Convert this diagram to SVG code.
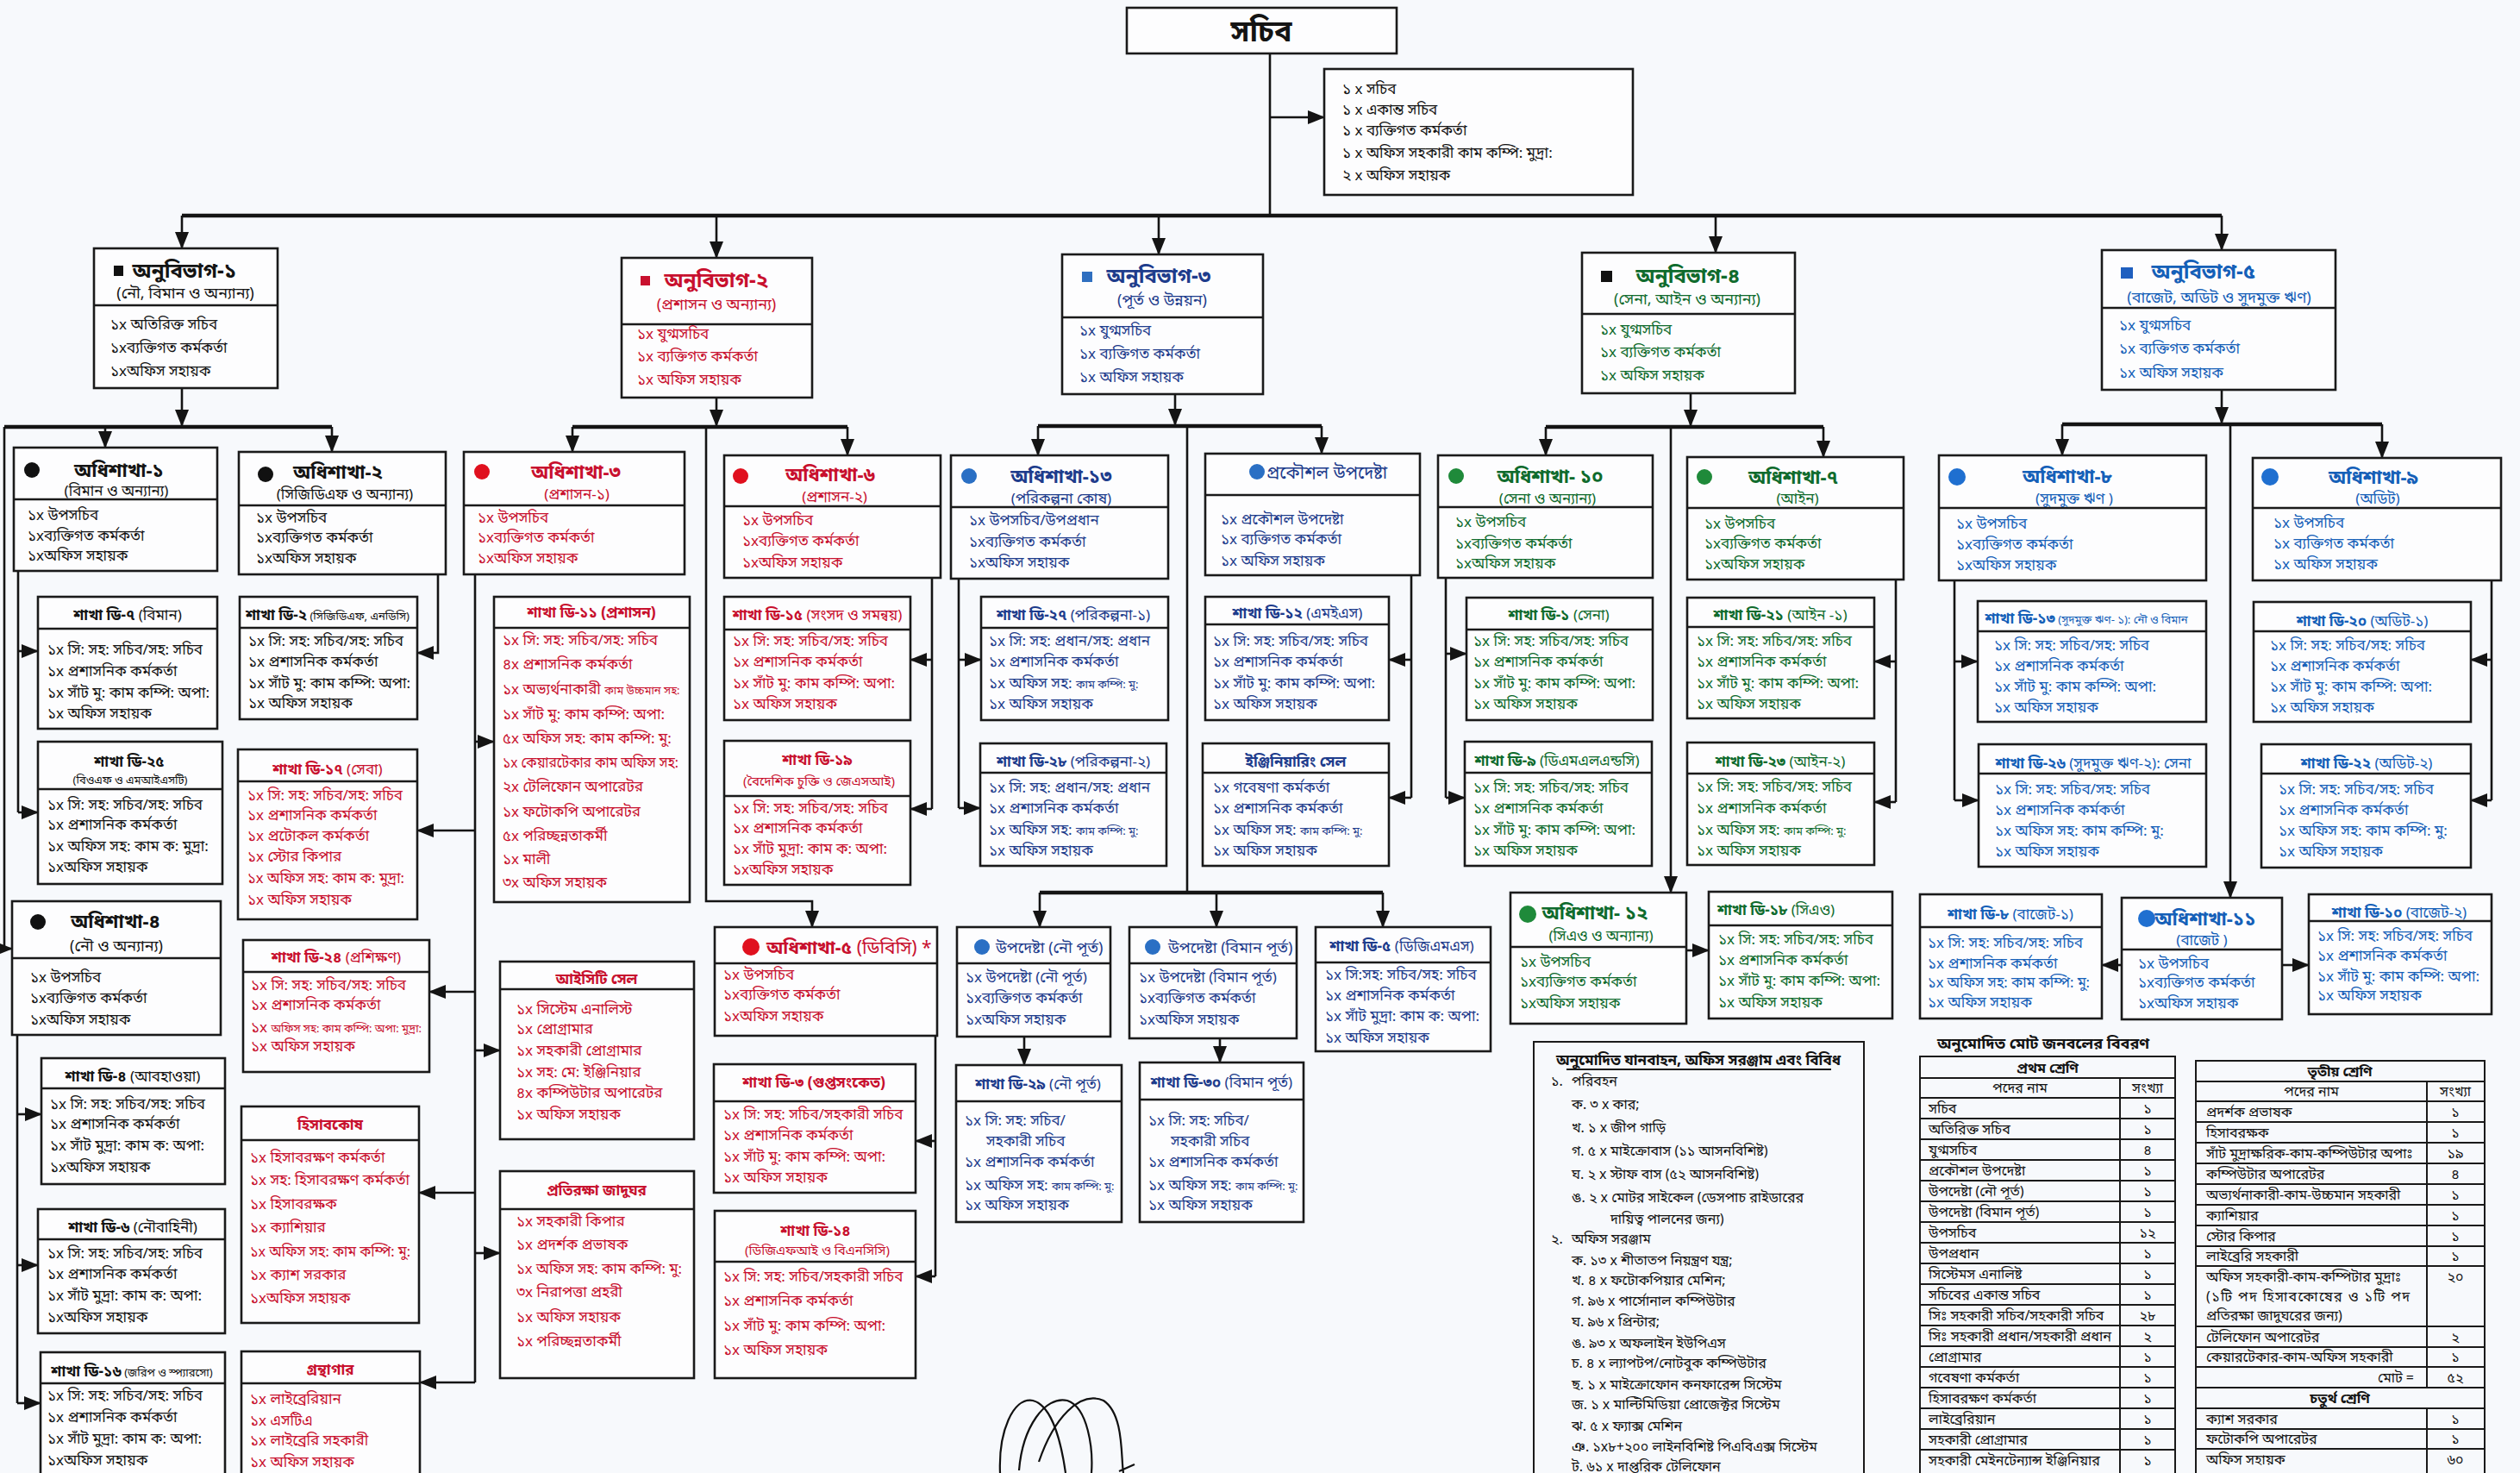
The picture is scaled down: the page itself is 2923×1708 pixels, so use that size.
<svg xmlns="http://www.w3.org/2000/svg" width="2923" height="1708" viewBox="0 0 2923 1708">
<style>
text{font-family:"Noto Sans Bengali","Noto Serif Bengali","Lohit Bengali","FreeSans","Noto Sans",sans-serif}
.bx{fill:#fdfdfe;stroke:#1a1a1a;stroke-width:2.6}
.sp{stroke:#1a1a1a;stroke-width:2.6}
.h1{font-size:24px;font-weight:bold}
.h2{font-size:22px;font-weight:bold}
.s1{font-size:18px}
.l{font-size:17px}
.xs{font-size:13px}
.m{text-anchor:middle}
.e{text-anchor:end}
.b{font-weight:bold}
.k{fill:#141414}.r{fill:#c8102e}.u{fill:#1e3c8c}.g{fill:#0f6b2d}.c{fill:#1560b8}
.cn path{fill:none;stroke:#141414;stroke-width:2.6}
.cn path.bus{stroke-width:4.5}
.tb line,.tb rect{stroke:#1a1a1a;stroke-width:2;fill:none}
.tb text{font-size:16px;fill:#141414}
</style>
<defs>
<marker id="a" markerUnits="userSpaceOnUse" markerWidth="20" markerHeight="16" viewBox="0 0 20 16" refX="19" refY="8" orient="auto"><path d="M0,0 L20,8 L0,16 z" fill="#141414"/></marker>
</defs>
<rect x="0" y="0" width="2923" height="1708" fill="#f7f9fc"/>

<g id="connectors" class="cn">
<path d="M1473,62 V250"/>
<path d="M1473,136 H1536" marker-end="url(#a)"/>
<path class="bus" d="M211,250 H2577"/>
<path d="M211,250 V288" marker-end="url(#a)"/>
<path d="M831,250 V299" marker-end="url(#a)"/>
<path d="M1344,250 V295" marker-end="url(#a)"/>
<path d="M1990,250 V293" marker-end="url(#a)"/>
<path d="M2577,250 V290" marker-end="url(#a)"/>
<path d="M211,450 V494" marker-end="url(#a)"/>
<path class="bus" d="M5,495 H385"/>
<path d="M122,495 V519" marker-end="url(#a)"/>
<path d="M385,495 V524" marker-end="url(#a)"/>
<path d="M5,495 V1100 H14" marker-end="url(#a)"/>
<path d="M21,662 V942"/>
<path d="M21,755 H44" marker-end="url(#a)"/>
<path d="M21,942 H44" marker-end="url(#a)"/>
<path d="M508,666 V757 H484" marker-end="url(#a)"/>
<path d="M20,1200 V1627"/>
<path d="M20,1292 H48" marker-end="url(#a)"/>
<path d="M20,1467 H44" marker-end="url(#a)"/>
<path d="M20,1627 H47" marker-end="url(#a)"/>
<path d="M831,461 V494" marker-end="url(#a)"/>
<path class="bus" d="M664,495 H983"/>
<path d="M664,495 V524" marker-end="url(#a)"/>
<path d="M983,495 V528" marker-end="url(#a)"/>
<path d="M819,495 V1045 H942 V1075" marker-end="url(#a)"/>
<path d="M551,666 V1603"/>
<path d="M551,860 H573" marker-end="url(#a)"/>
<path d="M551,963 H484" marker-end="url(#a)"/>
<path d="M551,1150 H498" marker-end="url(#a)"/>
<path d="M551,1218 H580" marker-end="url(#a)"/>
<path d="M551,1383 H486" marker-end="url(#a)"/>
<path d="M551,1453 H580" marker-end="url(#a)"/>
<path d="M551,1603 H487" marker-end="url(#a)"/>
<path d="M1081,670 V938"/>
<path d="M1081,765 H1056" marker-end="url(#a)"/>
<path d="M1081,938 H1056" marker-end="url(#a)"/>
<path d="M1085,1201 V1480"/>
<path d="M1085,1323 H1062" marker-end="url(#a)"/>
<path d="M1085,1480 H1062" marker-end="url(#a)"/>
<path d="M1363,457 V493" marker-end="url(#a)"/>
<path class="bus" d="M1204,494 H1533"/>
<path d="M1204,494 V528" marker-end="url(#a)"/>
<path d="M1533,494 V526" marker-end="url(#a)"/>
<path d="M1377,494 V1035"/>
<path class="bus" d="M1206,1035 H1604"/>
<path d="M1206,1035 V1075" marker-end="url(#a)"/>
<path d="M1411,1035 V1075" marker-end="url(#a)"/>
<path d="M1604,1035 V1075" marker-end="url(#a)"/>
<path d="M1112,671 V937"/>
<path d="M1112,765 H1138" marker-end="url(#a)"/>
<path d="M1112,937 H1137" marker-end="url(#a)"/>
<path d="M1637,667 V925"/>
<path d="M1637,765 H1611" marker-end="url(#a)"/>
<path d="M1637,925 H1611" marker-end="url(#a)"/>
<path d="M1188,1202 V1235" marker-end="url(#a)"/>
<path d="M1415,1204 V1232" marker-end="url(#a)"/>
<path d="M1961,456 V494" marker-end="url(#a)"/>
<path class="bus" d="M1793,495 H2115"/>
<path d="M1793,495 V528" marker-end="url(#a)"/>
<path d="M2115,495 V530" marker-end="url(#a)"/>
<path d="M1938,495 V1035" marker-end="url(#a)"/>
<path d="M1677,670 V925"/>
<path d="M1677,758 H1701" marker-end="url(#a)"/>
<path d="M1677,925 H1699" marker-end="url(#a)"/>
<path d="M2199,672 V930"/>
<path d="M2199,767 H2174" marker-end="url(#a)"/>
<path d="M2199,930 H2174" marker-end="url(#a)"/>
<path d="M1956,1102 H1982" marker-end="url(#a)"/>
<path d="M2577,452 V491" marker-end="url(#a)"/>
<path class="bus" d="M2392,492 H2763"/>
<path d="M2392,492 V528" marker-end="url(#a)"/>
<path d="M2763,492 V531" marker-end="url(#a)"/>
<path d="M2587,492 V1041" marker-end="url(#a)"/>
<path d="M2267,673 V928"/>
<path d="M2267,767 H2294" marker-end="url(#a)"/>
<path d="M2267,928 H2295" marker-end="url(#a)"/>
<path d="M2890,673 V928"/>
<path d="M2890,765 H2866" marker-end="url(#a)"/>
<path d="M2890,928 H2866" marker-end="url(#a)"/>
<path d="M2461,1119 H2438" marker-end="url(#a)"/>
<path d="M2647,1119 H2678" marker-end="url(#a)"/>
</g>

<g id="sochib"><rect class="bx" x="1307" y="9" width="313" height="53"/><text class="m k" x="1463" y="48" style="font-size:34px;font-weight:bold">সচিব</text></g>
<g id="sochib-staff"><rect class="bx" x="1536" y="80" width="358" height="146"/>
<text class="l k"><tspan x="1557" y="109">১ x সচিব</tspan><tspan x="1557" y="133">১ x একান্ত সচিব</tspan><tspan x="1557" y="157">১ x ব্যক্তিগত কর্মকর্তা</tspan><tspan x="1557" y="183">১ x অফিস সহকারী কাম কম্পি: মুদ্রা:</tspan><tspan x="1557" y="209">২ x অফিস সহায়ক</tspan></text></g>

<g id="anubibhag-1"><rect class="bx" x="109" y="288" width="213" height="162"/><line class="sp" x1="109" y1="354" x2="322" y2="354"/><rect x="132" y="308" width="11" height="12" fill="#111"/>
<text class="h1 m k" x="214" y="322">অনুবিভাগ-১</text><text class="s1 m k" x="215" y="346">(নৌ, বিমান ও অন্যান্য)</text>
<text class="l k"><tspan x="128" y="382">১x অতিরিক্ত সচিব</tspan><tspan x="128" y="409">১xব্যক্তিগত কর্মকর্তা</tspan><tspan x="128" y="436">১xঅফিস সহায়ক</tspan></text></g>

<g id="adhishakha-1"><rect class="bx" x="16" y="519" width="236" height="143"/><line class="sp" x1="16" y1="579" x2="252" y2="579"/><circle cx="37" cy="545" r="9" fill="#111"/>
<text class="h2 m k" x="138" y="553">অধিশাখা-১</text><text class="l m k" x="135" y="575">(বিমান ও অন্যান্য)</text>
<text class="l k"><tspan x="32" y="603">১x উপসচিব</tspan><tspan x="32" y="627">১xব্যক্তিগত কর্মকর্তা</tspan><tspan x="32" y="650">১xঅফিস সহায়ক</tspan></text></g>

<g id="adhishakha-2"><rect class="bx" x="277" y="524" width="240" height="142"/><line class="sp" x1="277" y1="586" x2="517" y2="586"/><circle cx="308" cy="550" r="9" fill="#111"/>
<text class="h2 m k" x="392" y="555">অধিশাখা-২</text><text class="l m k" x="400" y="579">(সিজিডিএফ ও অন্যান্য)</text>
<text class="l k"><tspan x="297" y="606">১x উপসচিব</tspan><tspan x="297" y="629">১xব্যক্তিগত কর্মকর্তা</tspan><tspan x="297" y="653">১xঅফিস সহায়ক</tspan></text></g>

<g id="shakha-d7"><rect class="bx" x="44" y="692" width="208" height="153"/><line class="sp" x1="44" y1="729" x2="252" y2="729"/>
<text class="l m k" x="148" y="719"><tspan class="b">শাখা ডি-৭</tspan> (বিমান)</text>
<text class="l k"><tspan x="55" y="759">১x সি: সহ: সচিব/সহ: সচিব</tspan><tspan x="55" y="784">১x প্রশাসনিক কর্মকর্তা</tspan><tspan x="55" y="809">১x সাঁট মু: কাম কম্পি: অপা:</tspan><tspan x="55" y="833">১x অফিস সহায়ক</tspan></text></g>

<g id="shakha-d25"><rect class="bx" x="44" y="860" width="214" height="165"/><line class="sp" x1="44" y1="915" x2="258" y2="915"/>
<text class="l m k b" x="150" y="889">শাখা ডি-২৫</text><text class="xs m k" x="151" y="909">(বিওএফ ও এমআইএসটি)</text>
<text class="l k"><tspan x="55" y="939">১x সি: সহ: সচিব/সহ: সচিব</tspan><tspan x="55" y="962">১x প্রশাসনিক কর্মকর্তা</tspan><tspan x="55" y="987">১x অফিস সহ: কাম ক: মুদ্রা:</tspan><tspan x="55" y="1011">১xঅফিস সহায়ক</tspan></text></g>

<g id="adhishakha-4"><rect class="bx" x="14" y="1045" width="242" height="155"/><line class="sp" x1="14" y1="1111" x2="256" y2="1111"/><circle cx="44" cy="1069" r="9" fill="#111"/>
<text class="h2 m k" x="134" y="1076">অধিশাখা-৪</text><text class="s1 m k" x="135" y="1103">(নৌ ও অন্যান্য)</text>
<text class="l k"><tspan x="35" y="1139">১x উপসচিব</tspan><tspan x="35" y="1163">১xব্যক্তিগত কর্মকর্তা</tspan><tspan x="35" y="1188">১xঅফিস সহায়ক</tspan></text></g>

<g id="shakha-d4"><rect class="bx" x="48" y="1227" width="213" height="146"/><line class="sp" x1="48" y1="1262" x2="261" y2="1262"/>
<text class="l m k" x="154" y="1254"><tspan class="b">শাখা ডি-৪</tspan> (আবহাওয়া)</text>
<text class="l k"><tspan x="58" y="1286">১x সি: সহ: সচিব/সহ: সচিব</tspan><tspan x="58" y="1309">১x প্রশাসনিক কর্মকর্তা</tspan><tspan x="58" y="1334">১x সাঁট মুদ্রা: কাম ক: অপা:</tspan><tspan x="58" y="1359">১xঅফিস সহায়ক</tspan></text></g>

<g id="shakha-d6"><rect class="bx" x="44" y="1402" width="217" height="144"/><line class="sp" x1="44" y1="1437" x2="261" y2="1437"/>
<text class="l m k" x="154" y="1429"><tspan class="b">শাখা ডি-৬</tspan> (নৌবাহিনী)</text>
<text class="l k"><tspan x="55" y="1459">১x সি: সহ: সচিব/সহ: সচিব</tspan><tspan x="55" y="1483">১x প্রশাসনিক কর্মকর্তা</tspan><tspan x="55" y="1508">১x সাঁট মুদ্রা: কাম ক: অপা:</tspan><tspan x="55" y="1533">১xঅফিস সহায়ক</tspan></text></g>

<g id="shakha-d16"><rect class="bx" x="47" y="1568" width="214" height="160"/><line class="sp" x1="47" y1="1604" x2="261" y2="1604"/>
<text class="l m k" x="153" y="1596"><tspan class="b">শাখা ডি-১৬</tspan><tspan class="xs"> (জরিপ ও স্প্যারসো)</tspan></text>
<text class="l k"><tspan x="55" y="1624">১x সি: সহ: সচিব/সহ: সচিব</tspan><tspan x="55" y="1649">১x প্রশাসনিক কর্মকর্তা</tspan><tspan x="55" y="1674">১x সাঁট মুদ্রা: কাম ক: অপা:</tspan><tspan x="55" y="1699">১xঅফিস সহায়ক</tspan></text></g>

<g id="shakha-d2"><rect class="bx" x="278" y="692" width="206" height="142"/><line class="sp" x1="278" y1="728" x2="484" y2="728"/>
<text class="l m k" x="380" y="719"><tspan class="b">শাখা ডি-২</tspan><tspan class="xs"> (সিজিডিএফ, এনডিসি)</tspan></text>
<text class="l k"><tspan x="288" y="749">১x সি: সহ: সচিব/সহ: সচিব</tspan><tspan x="288" y="773">১x প্রশাসনিক কর্মকর্তা</tspan><tspan x="288" y="798">১x সাঁট মু: কাম কম্পি: অপা:</tspan><tspan x="288" y="821">১x অফিস সহায়ক</tspan></text></g>

<g id="anubibhag-2"><rect class="bx" x="721" y="299" width="221" height="162"/><line class="sp" x1="721" y1="376" x2="942" y2="376"/><rect x="743" y="320" width="11" height="11" fill="#c8102e"/>
<text class="h1 m r" x="831" y="333">অনুবিভাগ-২</text><text class="s1 m r" x="831" y="359">(প্রশাসন ও অন্যান্য)</text>
<text class="l r"><tspan x="739" y="393">১x যুগ্মসচিব</tspan><tspan x="739" y="419">১x ব্যক্তিগত কর্মকর্তা</tspan><tspan x="739" y="446">১x অফিস সহায়ক</tspan></text></g>

<g id="adhishakha-3"><rect class="bx" x="538" y="524" width="256" height="142"/><line class="sp" x1="538" y1="586" x2="794" y2="586"/><circle cx="559" cy="547" r="9" fill="#e0101e"/>
<text class="h2 m r" x="668" y="555">অধিশাখা-৩</text><text class="l m r" x="669" y="579">(প্রশাসন-১)</text>
<text class="l r"><tspan x="554" y="606">১x উপসচিব</tspan><tspan x="554" y="629">১xব্যক্তিগত কর্মকর্তা</tspan><tspan x="554" y="653">১xঅফিস সহায়ক</tspan></text></g>

<g id="adhishakha-6"><rect class="bx" x="840" y="528" width="251" height="142"/><line class="sp" x1="840" y1="587" x2="1091" y2="587"/><circle cx="859" cy="552" r="9" fill="#e0101e"/>
<text class="h2 m r" x="963" y="558">অধিশাখা-৬</text><text class="l m r" x="968" y="582">(প্রশাসন-২)</text>
<text class="l r"><tspan x="861" y="609">১x উপসচিব</tspan><tspan x="861" y="633">১xব্যক্তিগত কর্মকর্তা</tspan><tspan x="861" y="658">১xঅফিস সহায়ক</tspan></text></g>

<g id="shakha-d11"><rect class="bx" x="573" y="692" width="227" height="354"/><line class="sp" x1="573" y1="728" x2="800" y2="728"/>
<text class="l m r b" x="686" y="716">শাখা ডি-১১ (প্রশাসন)</text>
<text class="l r"><tspan x="583" y="748">১x সি: সহ: সচিব/সহ: সচিব</tspan><tspan x="583" y="776">৪x প্রশাসনিক কর্মকর্তা</tspan><tspan x="583" y="805">১x অভ্যর্থনাকারী <tspan class="xs">কাম উচ্চমান সহ:</tspan></tspan><tspan x="583" y="834">১x সাঁট মু: কাম কম্পি: অপা:</tspan><tspan x="583" y="862">৫x অফিস সহ: কাম কম্পি: মু:</tspan></text>
<text class="l r" x="583" y="890" textLength="204" lengthAdjust="spacingAndGlyphs">১x কেয়ারটেকার কাম অফিস সহ:</text>
<text class="l r"><tspan x="583" y="918">২x টেলিফোন অপারেটর</tspan><tspan x="583" y="947">১x ফটোকপি অপারেটর</tspan><tspan x="583" y="975">৫x পরিচ্ছন্নতাকর্মী</tspan><tspan x="583" y="1002">১x মালী</tspan><tspan x="583" y="1029">৩x অফিস সহায়ক</tspan></text></g>

<g id="shakha-d17"><rect class="bx" x="276" y="869" width="208" height="197"/><line class="sp" x1="276" y1="906" x2="484" y2="906"/>
<text class="l m r" x="380" y="898"><tspan class="b">শাখা ডি-১৭</tspan> (সেবা)</text>
<text class="l r"><tspan x="287" y="928">১x সি: সহ: সচিব/সহ: সচিব</tspan><tspan x="287" y="951">১x প্রশাসনিক কর্মকর্তা</tspan><tspan x="287" y="975">১x প্রটোকল কর্মকর্তা</tspan><tspan x="287" y="999">১x স্টোর কিপার</tspan><tspan x="287" y="1049">১x অফিস সহায়ক</tspan></text>
<text class="l r" x="287" y="1024" textLength="182" lengthAdjust="spacingAndGlyphs">১x অফিস সহ: কাম ক: মুদ্রা:</text></g>

<g id="shakha-d24"><rect class="bx" x="282" y="1090" width="216" height="153"/><line class="sp" x1="282" y1="1127" x2="498" y2="1127"/>
<text class="l m r" x="390" y="1116"><tspan class="b">শাখা ডি-২৪</tspan> (প্রশিক্ষণ)</text>
<text class="l r"><tspan x="291" y="1148">১x সি: সহ: সচিব/সহ: সচিব</tspan><tspan x="291" y="1171">১x প্রশাসনিক কর্মকর্তা</tspan><tspan x="291" y="1197">১x <tspan class="xs">অফিস সহ: কাম কম্পি: অপা: মুদ্রা:</tspan></tspan><tspan x="291" y="1219">১x অফিস সহায়ক</tspan></text></g>

<g id="ict-cell"><rect class="bx" x="580" y="1115" width="225" height="206"/><line class="sp" x1="580" y1="1147" x2="805" y2="1147"/>
<text class="l m r b" x="692" y="1141">আইসিটি সেল</text>
<text class="l r"><tspan x="599" y="1176">১x সিস্টেম এনালিস্ট</tspan><tspan x="599" y="1199">১x প্রোগ্রামার</tspan><tspan x="599" y="1224">১x সহকারী প্রোগ্রামার</tspan><tspan x="599" y="1249">১x সহ: মে: ইঞ্জিনিয়ার</tspan><tspan x="599" y="1273">৪x কম্পিউটার অপারেটর</tspan><tspan x="599" y="1298">১x অফিস সহায়ক</tspan></text></g>

<g id="hisabkosh"><rect class="bx" x="280" y="1283" width="206" height="251"/><line class="sp" x1="280" y1="1322" x2="486" y2="1322"/>
<text class="l m r b" x="383" y="1310">হিসাবকোষ</text>
<text class="l r"><tspan x="290" y="1348">১x হিসাবরক্ষণ কর্মকর্তা</tspan><tspan x="290" y="1374">১x সহ: হিসাবরক্ষণ কর্মকর্তা</tspan><tspan x="290" y="1402">১x হিসাবরক্ষক</tspan><tspan x="290" y="1429">১x ক্যাশিয়ার</tspan><tspan x="290" y="1484">১x ক্যাশ সরকার</tspan><tspan x="290" y="1511">১xঅফিস সহায়ক</tspan></text>
<text class="l r" x="290" y="1457" textLength="186" lengthAdjust="spacingAndGlyphs">১x অফিস সহ: কাম কম্পি: মু:</text></g>

<g id="protiraksha-jadughar"><rect class="bx" x="580" y="1358" width="225" height="240"/><line class="sp" x1="580" y1="1402" x2="805" y2="1402"/>
<text class="l m r b" x="692" y="1386">প্রতিরক্ষা জাদুঘর</text>
<text class="l r"><tspan x="599" y="1422">১x সহকারী কিপার</tspan><tspan x="599" y="1449">১x প্রদর্শক প্রভাষক</tspan><tspan x="599" y="1504">৩x নিরাপত্তা প্রহরী</tspan><tspan x="599" y="1533">১x অফিস সহায়ক</tspan><tspan x="599" y="1561">১x পরিচ্ছন্নতাকর্মী</tspan></text>
<text class="l r" x="599" y="1477" textLength="192" lengthAdjust="spacingAndGlyphs">১x অফিস সহ: কাম কম্পি: মু:</text></g>

<g id="granthagar"><rect class="bx" x="280" y="1567" width="207" height="160"/><line class="sp" x1="280" y1="1604" x2="487" y2="1604"/>
<text class="l m r b" x="383" y="1594">গ্রন্থাগার</text>
<text class="l r"><tspan x="290" y="1628">১x লাইব্রেরিয়ান</tspan><tspan x="290" y="1653">১x এসটিএ</tspan><tspan x="290" y="1676">১x লাইব্রেরি সহকারী</tspan><tspan x="290" y="1701">১x অফিস সহায়ক</tspan></text></g>

<g id="shakha-d15"><rect class="bx" x="840" y="692" width="216" height="143"/><line class="sp" x1="840" y1="730" x2="1056" y2="730"/>
<text class="l m r" x="948" y="719"><tspan class="b">শাখা ডি-১৫</tspan> (সংসদ ও সমন্বয়)</text>
<text class="l r"><tspan x="850" y="749">১x সি: সহ: সচিব/সহ: সচিব</tspan><tspan x="850" y="773">১x প্রশাসনিক কর্মকর্তা</tspan><tspan x="850" y="798">১x সাঁট মু: কাম কম্পি: অপা:</tspan><tspan x="850" y="822">১x অফিস সহায়ক</tspan></text></g>

<g id="shakha-d19"><rect class="bx" x="840" y="859" width="216" height="167"/><line class="sp" x1="840" y1="923" x2="1056" y2="923"/>
<text class="l m r b" x="948" y="887">শাখা ডি-১৯</text><text class="m r" x="950" y="911" style="font-size:15px">(বৈদেশিক চুক্তি ও জেএসআই)</text>
<text class="l r"><tspan x="850" y="943">১x সি: সহ: সচিব/সহ: সচিব</tspan><tspan x="850" y="966">১x প্রশাসনিক কর্মকর্তা</tspan><tspan x="850" y="990">১x সাঁট মুদ্রা: কাম ক: অপা:</tspan><tspan x="850" y="1014">১xঅফিস সহায়ক</tspan></text></g>

<g id="adhishakha-5"><rect class="bx" x="829" y="1075" width="258" height="126"/><line class="sp" x1="829" y1="1117" x2="1087" y2="1117"/><circle cx="871" cy="1098" r="10" fill="#e0101e"/>
<text class="r" x="889" y="1106" style="font-size:21px"><tspan class="b">অধিশাখা-৫</tspan> (ডিবিসি) *</text>
<text class="l r"><tspan x="839" y="1136">১x উপসচিব</tspan><tspan x="839" y="1159">১xব্যক্তিগত কর্মকর্তা</tspan><tspan x="839" y="1184">১xঅফিস সহায়ক</tspan></text></g>

<g id="shakha-d3"><rect class="bx" x="828" y="1234" width="234" height="149"/><line class="sp" x1="828" y1="1277" x2="1062" y2="1277"/>
<text class="l m r b" x="944" y="1261">শাখা ডি-৩ (গুপ্তসংকেত)</text>
<text class="l r"><tspan x="839" y="1298">১x সি: সহ: সচিব/সহকারী সচিব</tspan><tspan x="839" y="1322">১x প্রশাসনিক কর্মকর্তা</tspan><tspan x="839" y="1347">১x সাঁট মু: কাম কম্পি: অপা:</tspan><tspan x="839" y="1371">১x অফিস সহায়ক</tspan></text></g>

<g id="shakha-d14"><rect class="bx" x="829" y="1404" width="233" height="194"/><line class="sp" x1="829" y1="1463" x2="1062" y2="1463"/>
<text class="l m r b" x="946" y="1433">শাখা ডি-১৪</text><text class="m r" x="948" y="1455" style="font-size:15px">(ডিজিএফআই ও বিএনসিসি)</text>
<text class="l r"><tspan x="839" y="1486">১x সি: সহ: সচিব/সহকারী সচিব</tspan><tspan x="839" y="1514">১x প্রশাসনিক কর্মকর্তা</tspan><tspan x="839" y="1543">১x সাঁট মু: কাম কম্পি: অপা:</tspan><tspan x="839" y="1571">১x অফিস সহায়ক</tspan></text></g>

<g id="anubibhag-3"><rect class="bx" x="1232" y="295" width="233" height="162"/><line class="sp" x1="1232" y1="368" x2="1465" y2="368"/><rect x="1255" y="315" width="12" height="12" fill="#2f6fc0"/>
<text class="h1 m u" x="1344" y="328">অনুবিভাগ-৩</text><text class="s1 m u" x="1348" y="354">(পূর্ত ও উন্নয়ন)</text>
<text class="l u"><tspan x="1252" y="389">১x যুগ্মসচিব</tspan><tspan x="1252" y="416">১x ব্যক্তিগত কর্মকর্তা</tspan><tspan x="1252" y="443">১x অফিস সহায়ক</tspan></text></g>

<g id="adhishakha-13"><rect class="bx" x="1103" y="528" width="252" height="143"/><line class="sp" x1="1103" y1="588" x2="1355" y2="588"/><circle cx="1124" cy="552" r="9" fill="#2a6fc4"/>
<text class="h2 m u" x="1231" y="560">অধিশাখা-১৩</text><text class="l m u" x="1231" y="584">(পরিকল্পনা কোষ)</text>
<text class="l u"><tspan x="1124" y="609">১x উপসচিব/উপপ্রধান</tspan><tspan x="1124" y="634">১xব্যক্তিগত কর্মকর্তা</tspan><tspan x="1124" y="658">১xঅফিস সহায়ক</tspan></text></g>

<g id="shakha-d27"><rect class="bx" x="1138" y="692" width="217" height="143"/><line class="sp" x1="1138" y1="728" x2="1355" y2="728"/>
<text class="l m u" x="1245" y="719"><tspan class="b">শাখা ডি-২৭</tspan> (পরিকল্পনা-১)</text>
<text class="l u"><tspan x="1147" y="749">১x সি: সহ: প্রধান/সহ: প্রধান</tspan><tspan x="1147" y="773">১x প্রশাসনিক কর্মকর্তা</tspan><tspan x="1147" y="798">১x অফিস সহ: <tspan class="xs">কাম কম্পি: মু:</tspan></tspan><tspan x="1147" y="822">১x অফিস সহায়ক</tspan></text></g>

<g id="shakha-d28"><rect class="bx" x="1137" y="862" width="216" height="142"/><line class="sp" x1="1137" y1="896" x2="1353" y2="896"/>
<text class="l m u" x="1245" y="889"><tspan class="b">শাখা ডি-২৮</tspan> (পরিকল্পনা-২)</text>
<text class="l u"><tspan x="1147" y="919">১x সি: সহ: প্রধান/সহ: প্রধান</tspan><tspan x="1147" y="943">১x প্রশাসনিক কর্মকর্তা</tspan><tspan x="1147" y="968">১x অফিস সহ: <tspan class="xs">কাম কম্পি: মু:</tspan></tspan><tspan x="1147" y="992">১x অফিস সহায়ক</tspan></text></g>

<g id="prokoushal-upodeshta"><rect class="bx" x="1398" y="526" width="249" height="141"/><line class="sp" x1="1398" y1="574" x2="1647" y2="574"/><circle cx="1458" cy="547" r="9" fill="#2a6fc4"/>
<text class="u" x="1469" y="555" style="font-size:20px">প্রকৌশল উপদেষ্টা</text>
<text class="l u"><tspan x="1416" y="608">১x প্রকৌশল উপদেষ্টা</tspan><tspan x="1416" y="631">১x ব্যক্তিগত কর্মকর্তা</tspan><tspan x="1416" y="656">১x অফিস সহায়ক</tspan></text></g>

<g id="shakha-d12"><rect class="bx" x="1398" y="692" width="213" height="143"/><line class="sp" x1="1398" y1="724" x2="1611" y2="724"/>
<text class="l m u" x="1505" y="717"><tspan class="b">শাখা ডি-১২</tspan> (এমইএস)</text>
<text class="l u"><tspan x="1407" y="749">১x সি: সহ: সচিব/সহ: সচিব</tspan><tspan x="1407" y="773">১x প্রশাসনিক কর্মকর্তা</tspan><tspan x="1407" y="798">১x সাঁট মু: কাম কম্পি: অপা:</tspan><tspan x="1407" y="822">১x অফিস সহায়ক</tspan></text></g>

<g id="engineering-cell"><rect class="bx" x="1395" y="862" width="216" height="142"/><line class="sp" x1="1395" y1="896" x2="1611" y2="896"/>
<text class="l m u b" x="1503" y="889">ইঞ্জিনিয়ারিং সেল</text>
<text class="l u"><tspan x="1407" y="919">১x গবেষণা কর্মকর্তা</tspan><tspan x="1407" y="943">১x প্রশাসনিক কর্মকর্তা</tspan><tspan x="1407" y="968">১x অফিস সহ: <tspan class="xs">কাম কম্পি: মু:</tspan></tspan><tspan x="1407" y="992">১x অফিস সহায়ক</tspan></text></g>

<g id="upodeshta-nou"><rect class="bx" x="1110" y="1075" width="178" height="127"/><line class="sp" x1="1110" y1="1117" x2="1288" y2="1117"/><circle cx="1139" cy="1098" r="9" fill="#2a6fc4"/>
<text class="s1 u" x="1155" y="1105">উপদেষ্টা (নৌ পূর্ত)</text>
<text class="l u"><tspan x="1120" y="1139">১x উপদেষ্টা (নৌ পূর্ত)</tspan><tspan x="1120" y="1163">১xব্যক্তিগত কর্মকর্তা</tspan><tspan x="1120" y="1188">১xঅফিস সহায়ক</tspan></text></g>

<g id="upodeshta-biman"><rect class="bx" x="1310" y="1075" width="194" height="129"/><line class="sp" x1="1310" y1="1117" x2="1504" y2="1117"/><circle cx="1337" cy="1098" r="9" fill="#2a6fc4"/>
<text class="s1 u" x="1355" y="1105">উপদেষ্টা (বিমান পূর্ত)</text>
<text class="l u"><tspan x="1321" y="1139">১x উপদেষ্টা (বিমান পূর্ত)</tspan><tspan x="1321" y="1163">১xব্যক্তিগত কর্মকর্তা</tspan><tspan x="1321" y="1188">১xঅফিস সহায়ক</tspan></text></g>

<g id="shakha-d5"><rect class="bx" x="1526" y="1075" width="203" height="144"/><line class="sp" x1="1526" y1="1116" x2="1729" y2="1116"/>
<text class="l m u" x="1626" y="1103"><tspan class="b">শাখা ডি-৫</tspan> (ডিজিএমএস)</text>
<text class="l u"><tspan x="1537" y="1136">১x সি:সহ: সচিব/সহ: সচিব</tspan><tspan x="1537" y="1160">১x প্রশাসনিক কর্মকর্তা</tspan><tspan x="1537" y="1184">১x সাঁট মুদ্রা: কাম ক: অপা:</tspan><tspan x="1537" y="1209">১x অফিস সহায়ক</tspan></text></g>

<g id="shakha-d29"><rect class="bx" x="1109" y="1235" width="192" height="182"/><line class="sp" x1="1109" y1="1277" x2="1301" y2="1277"/>
<text class="l m u" x="1204" y="1263"><tspan class="b">শাখা ডি-২৯</tspan> (নৌ পূর্ত)</text>
<text class="l u"><tspan x="1119" y="1305">১x সি: সহ: সচিব/</tspan><tspan x="1144" y="1329">সহকারী সচিব</tspan><tspan x="1119" y="1353">১x প্রশাসনিক কর্মকর্তা</tspan><tspan x="1119" y="1380">১x অফিস সহ: <tspan class="xs">কাম কম্পি: মু:</tspan></tspan><tspan x="1119" y="1403">১x অফিস সহায়ক</tspan></text></g>

<g id="shakha-d30"><rect class="bx" x="1322" y="1232" width="190" height="185"/><line class="sp" x1="1322" y1="1275" x2="1512" y2="1275"/>
<text class="l m u" x="1417" y="1261"><tspan class="b">শাখা ডি-৩০</tspan> (বিমান পূর্ত)</text>
<text class="l u"><tspan x="1332" y="1305">১x সি: সহ: সচিব/</tspan><tspan x="1358" y="1329">সহকারী সচিব</tspan><tspan x="1332" y="1353">১x প্রশাসনিক কর্মকর্তা</tspan><tspan x="1332" y="1380">১x অফিস সহ: <tspan class="xs">কাম কম্পি: মু:</tspan></tspan><tspan x="1332" y="1403">১x অফিস সহায়ক</tspan></text></g>

<g id="anubibhag-4"><rect class="bx" x="1835" y="293" width="247" height="163"/><line class="sp" x1="1835" y1="364" x2="2082" y2="364"/><rect x="1857" y="314" width="13" height="13" fill="#111"/>
<text class="h1 m g" x="1958" y="328">অনুবিভাগ-৪</text><text class="s1 m g" x="1957" y="353">(সেনা, আইন ও অন্যান্য)</text>
<text class="l g"><tspan x="1856" y="388">১x যুগ্মসচিব</tspan><tspan x="1856" y="414">১x ব্যক্তিগত কর্মকর্তা</tspan><tspan x="1856" y="441">১x অফিস সহায়ক</tspan></text></g>

<g id="adhishakha-10"><rect class="bx" x="1668" y="528" width="249" height="142"/><line class="sp" x1="1668" y1="588" x2="1917" y2="588"/><circle cx="1689" cy="552" r="9" fill="#1f8a3a"/>
<text class="h2 m g" x="1798" y="560">অধিশাখা- ১০</text><text class="l m g" x="1795" y="584">(সেনা ও অন্যান্য)</text>
<text class="l g"><tspan x="1688" y="611">১x উপসচিব</tspan><tspan x="1688" y="636">১xব্যক্তিগত কর্মকর্তা</tspan><tspan x="1688" y="659">১xঅফিস সহায়ক</tspan></text></g>

<g id="adhishakha-7"><rect class="bx" x="1957" y="530" width="251" height="142"/><line class="sp" x1="1957" y1="589" x2="2208" y2="589"/><circle cx="1977" cy="553" r="9" fill="#1f8a3a"/>
<text class="h2 m g" x="2080" y="561">অধিশাখা-৭</text><text class="l m g" x="2085" y="584">(আইন)</text>
<text class="l g"><tspan x="1977" y="613">১x উপসচিব</tspan><tspan x="1977" y="636">১xব্যক্তিগত কর্মকর্তা</tspan><tspan x="1977" y="660">১xঅফিস সহায়ক</tspan></text></g>

<g id="shakha-d1"><rect class="bx" x="1701" y="693" width="216" height="142"/><line class="sp" x1="1701" y1="730" x2="1917" y2="730"/>
<text class="l m g" x="1808" y="719"><tspan class="b">শাখা ডি-১</tspan> (সেনা)</text>
<text class="l g"><tspan x="1709" y="749">১x সি: সহ: সচিব/সহ: সচিব</tspan><tspan x="1709" y="773">১x প্রশাসনিক কর্মকর্তা</tspan><tspan x="1709" y="798">১x সাঁট মু: কাম কম্পি: অপা:</tspan><tspan x="1709" y="822">১x অফিস সহায়ক</tspan></text></g>

<g id="shakha-d9"><rect class="bx" x="1699" y="860" width="217" height="144"/><line class="sp" x1="1699" y1="896" x2="1916" y2="896"/>
<text class="l m g" x="1806" y="888"><tspan class="b">শাখা ডি-৯</tspan> (ডিএমএলএন্ডসি)</text>
<text class="l g"><tspan x="1709" y="919">১x সি: সহ: সচিব/সহ: সচিব</tspan><tspan x="1709" y="943">১x প্রশাসনিক কর্মকর্তা</tspan><tspan x="1709" y="968">১x সাঁট মু: কাম কম্পি: অপা:</tspan><tspan x="1709" y="992">১x অফিস সহায়ক</tspan></text></g>

<g id="shakha-d21"><rect class="bx" x="1957" y="693" width="217" height="140"/><line class="sp" x1="1957" y1="727" x2="2174" y2="727"/>
<text class="l m g" x="2065" y="719"><tspan class="b">শাখা ডি-২১</tspan> (আইন -১)</text>
<text class="l g"><tspan x="1968" y="749">১x সি: সহ: সচিব/সহ: সচিব</tspan><tspan x="1968" y="773">১x প্রশাসনিক কর্মকর্তা</tspan><tspan x="1968" y="798">১x সাঁট মু: কাম কম্পি: অপা:</tspan><tspan x="1968" y="822">১x অফিস সহায়ক</tspan></text></g>

<g id="shakha-d23"><rect class="bx" x="1957" y="861" width="217" height="142"/><line class="sp" x1="1957" y1="897" x2="2174" y2="897"/>
<text class="l m g" x="2065" y="889"><tspan class="b">শাখা ডি-২৩</tspan> (আইন-২)</text>
<text class="l g"><tspan x="1968" y="918">১x সি: সহ: সচিব/সহ: সচিব</tspan><tspan x="1968" y="943">১x প্রশাসনিক কর্মকর্তা</tspan><tspan x="1968" y="968">১x অফিস সহ: <tspan class="xs">কাম কম্পি: মু:</tspan></tspan><tspan x="1968" y="992">১x অফিস সহায়ক</tspan></text></g>

<g id="adhishakha-12"><rect class="bx" x="1752" y="1035" width="204" height="152"/><line class="sp" x1="1752" y1="1098" x2="1956" y2="1098"/><circle cx="1772" cy="1060" r="10" fill="#1f8a3a"/>
<text class="h2 m g" x="1850" y="1066">অধিশাখা- ১২</text><text class="l m g" x="1857" y="1091">(সিএও ও অন্যান্য)</text>
<text class="l g"><tspan x="1763" y="1121">১x উপসচিব</tspan><tspan x="1763" y="1144">১xব্যক্তিগত কর্মকর্তা</tspan><tspan x="1763" y="1169">১xঅফিস সহায়ক</tspan></text></g>

<g id="shakha-d18"><rect class="bx" x="1982" y="1034" width="213" height="147"/><line class="sp" x1="1982" y1="1073" x2="2195" y2="1073"/>
<text class="l m g" x="2060" y="1061"><tspan class="b">শাখা ডি-১৮</tspan> (সিএও)</text>
<text class="l g"><tspan x="1993" y="1095">১x সি: সহ: সচিব/সহ: সচিব</tspan><tspan x="1993" y="1119">১x প্রশাসনিক কর্মকর্তা</tspan><tspan x="1993" y="1143">১x সাঁট মু: কাম কম্পি: অপা:</tspan><tspan x="1993" y="1168">১x অফিস সহায়ক</tspan></text></g>

<g id="anubibhag-5"><rect class="bx" x="2438" y="290" width="271" height="162"/><line class="sp" x1="2438" y1="357" x2="2709" y2="357"/><rect x="2460" y="310" width="14" height="13" fill="#1f5fbf"/>
<text class="h1 m c" x="2556" y="323">অনুবিভাগ-৫</text><text class="s1 m c" x="2574" y="351">(বাজেট, অডিট ও সুদমুক্ত ঋণ)</text>
<text class="l c"><tspan x="2458" y="383">১x যুগ্মসচিব</tspan><tspan x="2458" y="410">১x ব্যক্তিগত কর্মকর্তা</tspan><tspan x="2458" y="438">১x অফিস সহায়ক</tspan></text></g>

<g id="adhishakha-8"><rect class="bx" x="2249" y="528" width="310" height="145"/><line class="sp" x1="2249" y1="589" x2="2559" y2="589"/><circle cx="2270" cy="553" r="10" fill="#1f6fd0"/>
<text class="h2 m c" x="2398" y="560">অধিশাখা-৮</text><text class="l m c" x="2406" y="584">(সুদমুক্ত ঋণ )</text>
<text class="l c"><tspan x="2269" y="613">১x উপসচিব</tspan><tspan x="2269" y="637">১xব্যক্তিগত কর্মকর্তা</tspan><tspan x="2269" y="661">১xঅফিস সহায়ক</tspan></text></g>

<g id="adhishakha-9"><rect class="bx" x="2613" y="531" width="288" height="142"/><line class="sp" x1="2613" y1="589" x2="2901" y2="589"/><circle cx="2633" cy="553" r="10" fill="#1f6fd0"/>
<text class="h2 m c" x="2753" y="561">অধিশাখা-৯</text><text class="l m c" x="2758" y="584">(অডিট)</text>
<text class="l c"><tspan x="2637" y="612">১x উপসচিব</tspan><tspan x="2637" y="636">১x ব্যক্তিগত কর্মকর্তা</tspan><tspan x="2637" y="660">১x অফিস সহায়ক</tspan></text></g>

<g id="shakha-d13"><rect class="bx" x="2294" y="697" width="265" height="140"/><line class="sp" x1="2294" y1="732" x2="2559" y2="732"/>
<text class="l m c" x="2420" y="723"><tspan class="b">শাখা ডি-১৩</tspan><tspan class="xs"> (সুদমুক্ত ঋণ- ১): নৌ ও বিমান</tspan></text>
<text class="l c"><tspan x="2313" y="754">১x সি: সহ: সচিব/সহ: সচিব</tspan><tspan x="2313" y="778">১x প্রশাসনিক কর্মকর্তা</tspan><tspan x="2313" y="802">১x সাঁট মু: কাম কম্পি: অপা:</tspan><tspan x="2313" y="826">১x অফিস সহায়ক</tspan></text></g>

<g id="shakha-d26"><rect class="bx" x="2295" y="863" width="264" height="142"/><line class="sp" x1="2295" y1="897" x2="2559" y2="897"/>
<text class="l m c" x="2428" y="891"><tspan class="b">শাখা ডি-২৬</tspan> (সুদমুক্ত ঋণ-২): সেনা</text>
<text class="l c"><tspan x="2314" y="921">১x সি: সহ: সচিব/সহ: সচিব</tspan><tspan x="2314" y="945">১x প্রশাসনিক কর্মকর্তা</tspan><tspan x="2314" y="969">১x অফিস সহ: কাম কম্পি: মু:</tspan><tspan x="2314" y="993">১x অফিস সহায়ক</tspan></text></g>

<g id="shakha-d20"><rect class="bx" x="2614" y="698" width="252" height="139"/><line class="sp" x1="2614" y1="732" x2="2866" y2="732"/>
<text class="l m c" x="2740" y="726"><tspan class="b">শাখা ডি-২০</tspan> (অডিট-১)</text>
<text class="l c"><tspan x="2633" y="754">১x সি: সহ: সচিব/সহ: সচিব</tspan><tspan x="2633" y="778">১x প্রশাসনিক কর্মকর্তা</tspan><tspan x="2633" y="802">১x সাঁট মু: কাম কম্পি: অপা:</tspan><tspan x="2633" y="826">১x অফিস সহায়ক</tspan></text></g>

<g id="shakha-d22"><rect class="bx" x="2623" y="863" width="243" height="143"/><line class="sp" x1="2623" y1="897" x2="2866" y2="897"/>
<text class="l m c" x="2745" y="891"><tspan class="b">শাখা ডি-২২</tspan> (অডিট-২)</text>
<text class="l c"><tspan x="2643" y="921">১x সি: সহ: সচিব/সহ: সচিব</tspan><tspan x="2643" y="945">১x প্রশাসনিক কর্মকর্তা</tspan><tspan x="2643" y="969">১x অফিস সহ: কাম কম্পি: মু:</tspan><tspan x="2643" y="993">১x অফিস সহায়ক</tspan></text></g>

<g id="adhishakha-11"><rect class="bx" x="2461" y="1041" width="186" height="141"/><line class="sp" x1="2461" y1="1101" x2="2647" y2="1101"/><circle cx="2490" cy="1065" r="10" fill="#1f6fd0"/>
<text class="h2 m c" x="2558" y="1073">অধিশাখা-১১</text><text class="l m c" x="2554" y="1096">(বাজেট )</text>
<text class="l c"><tspan x="2480" y="1123">১x উপসচিব</tspan><tspan x="2480" y="1145">১xব্যক্তিগত কর্মকর্তা</tspan><tspan x="2480" y="1169">১xঅফিস সহায়ক</tspan></text></g>

<g id="shakha-d8"><rect class="bx" x="2227" y="1037" width="211" height="144"/><line class="sp" x1="2227" y1="1075" x2="2438" y2="1075"/>
<text class="l m c" x="2332" y="1066"><tspan class="b">শাখা ডি-৮</tspan> (বাজেট-১)</text>
<text class="l c"><tspan x="2236" y="1099">১x সি: সহ: সচিব/সহ: সচিব</tspan><tspan x="2236" y="1123">১x প্রশাসনিক কর্মকর্তা</tspan><tspan x="2236" y="1168">১x অফিস সহায়ক</tspan></text>
<text class="l c" x="2236" y="1145" textLength="188" lengthAdjust="spacingAndGlyphs">১x অফিস সহ: কাম কম্পি: মু:</text></g>

<g id="shakha-d10"><rect class="bx" x="2678" y="1037" width="212" height="139"/><line class="sp" x1="2678" y1="1068" x2="2890" y2="1068"/>
<text class="l m c" x="2783" y="1064"><tspan class="b">শাখা ডি-১০</tspan> (বাজেট-২)</text>
<text class="l c"><tspan x="2688" y="1091">১x সি: সহ: সচিব/সহ: সচিব</tspan><tspan x="2688" y="1114">১x প্রশাসনিক কর্মকর্তা</tspan><tspan x="2688" y="1138">১x সাঁট মু: কাম কম্পি: অপা:</tspan><tspan x="2688" y="1160">১x অফিস সহায়ক</tspan></text></g>

<g id="equipment" class="tb">
<rect x="1779" y="1208" width="383" height="530"/>
<text x="1970" y="1235" class="m b" style="font-size:17px">অনুমোদিত যানবাহন, অফিস সরঞ্জাম এবং বিবিধ</text>
<line x1="1817" y1="1240" x2="2124" y2="1240"/>
<text x="1799" y="1259">১.</text><text x="1823" y="1259">পরিবহন</text>
<text x="1823" y="1286">ক. ৩ x কার;</text>
<text x="1823" y="1313">খ. ১ x জীপ গাড়ি</text>
<text x="1823" y="1340">গ. ৫ x মাইক্রোবাস (১১ আসনবিশিষ্ট)</text>
<text x="1823" y="1367">ঘ. ২ x স্টাফ বাস (৫২ আসনবিশিষ্ট)</text>
<text x="1823" y="1394">ঙ. ২ x মোটর সাইকেল (ডেসপাচ রাইডারের</text>
<text x="1868" y="1419">দায়িত্ব পালনের জন্য)</text>
<text x="1799" y="1442">২.</text><text x="1823" y="1442">অফিস সরঞ্জাম</text>
<text x="1823" y="1467">ক. ১৩ x শীতাতপ নিয়ন্ত্রণ যন্ত্র;</text>
<text x="1823" y="1490">খ. ৪ x ফটোকপিয়ার মেশিন;</text>
<text x="1823" y="1514">গ. ৯৬ x পার্সোনাল কম্পিউটার</text>
<text x="1823" y="1538">ঘ. ৯৬ x প্রিন্টার;</text>
<text x="1823" y="1563">ঙ. ৯৩ x অফলাইন ইউপিএস</text>
<text x="1823" y="1586">চ. ৪ x ল্যাপটপ/নোটবুক কম্পিউটার</text>
<text x="1823" y="1611">ছ. ১ x মাইক্রোফোন কনফারেন্স সিস্টেম</text>
<text x="1823" y="1634">জ. ১ x মাল্টিমিডিয়া প্রোজেক্টর সিস্টেম</text>
<text x="1823" y="1659">ঝ. ৫ x ফ্যাক্স মেশিন</text>
<text x="1823" y="1683">ঞ. ১x৮+২০০ লাইনবিশিষ্ট পিএবিএক্স সিস্টেম</text>
<text x="1823" y="1706">ট. ৬১ x দাপ্তরিক টেলিফোন</text>
</g>

<g id="manpower-title"><text x="2370" y="1216" class="m k b" style="font-size:18px">অনুমোদিত মোট জনবলের বিবরণ</text></g>
<g id="table-class1" class="tb">
<rect x="2227" y="1225" width="296" height="500"/>
<line x1="2227" y1="1250" x2="2523" y2="1250"/><line x1="2459" y1="1250" x2="2459" y2="1725"/>
<line x1="2227" y1="1273" x2="2523" y2="1273"/><line x1="2227" y1="1297" x2="2523" y2="1297"/><line x1="2227" y1="1321" x2="2523" y2="1321"/><line x1="2227" y1="1345" x2="2523" y2="1345"/><line x1="2227" y1="1369" x2="2523" y2="1369"/><line x1="2227" y1="1393" x2="2523" y2="1393"/><line x1="2227" y1="1417" x2="2523" y2="1417"/><line x1="2227" y1="1441" x2="2523" y2="1441"/><line x1="2227" y1="1465" x2="2523" y2="1465"/><line x1="2227" y1="1489" x2="2523" y2="1489"/><line x1="2227" y1="1513" x2="2523" y2="1513"/><line x1="2227" y1="1537" x2="2523" y2="1537"/><line x1="2227" y1="1561" x2="2523" y2="1561"/><line x1="2227" y1="1585" x2="2523" y2="1585"/><line x1="2227" y1="1609" x2="2523" y2="1609"/><line x1="2227" y1="1633" x2="2523" y2="1633"/><line x1="2227" y1="1657" x2="2523" y2="1657"/><line x1="2227" y1="1681" x2="2523" y2="1681"/>
<text x="2375" y="1244" class="m b">প্রথম শ্রেণি</text>
<text x="2343" y="1267" class="m">পদের নাম</text><text x="2491" y="1267" class="m">সংখ্যা</text>
<text x="2237" y="1291">সচিব</text><text x="2491" y="1291" class="m">১</text>
<text x="2237" y="1315">অতিরিক্ত সচিব</text><text x="2491" y="1315" class="m">১</text>
<text x="2237" y="1339">যুগ্মসচিব</text><text x="2491" y="1339" class="m">৪</text>
<text x="2237" y="1363">প্রকৌশল উপদেষ্টা</text><text x="2491" y="1363" class="m">১</text>
<text x="2237" y="1387">উপদেষ্টা (নৌ পূর্ত)</text><text x="2491" y="1387" class="m">১</text>
<text x="2237" y="1411">উপদেষ্টা (বিমান পূর্ত)</text><text x="2491" y="1411" class="m">১</text>
<text x="2237" y="1435">উপসচিব</text><text x="2491" y="1435" class="m">১২</text>
<text x="2237" y="1459">উপপ্রধান</text><text x="2491" y="1459" class="m">১</text>
<text x="2237" y="1483">সিস্টেমস এনালিষ্ট</text><text x="2491" y="1483" class="m">১</text>
<text x="2237" y="1507">সচিবের একান্ত সচিব</text><text x="2491" y="1507" class="m">১</text>
<text x="2237" y="1531">সিঃ সহকারী সচিব/সহকারী সচিব</text><text x="2491" y="1531" class="m">২৮</text>
<text x="2237" y="1555" textLength="212" lengthAdjust="spacingAndGlyphs">সিঃ সহকারী প্রধান/সহকারী প্রধান</text><text x="2491" y="1555" class="m">২</text>
<text x="2237" y="1579">প্রোগ্রামার</text><text x="2491" y="1579" class="m">১</text>
<text x="2237" y="1603">গবেষণা কর্মকর্তা</text><text x="2491" y="1603" class="m">১</text>
<text x="2237" y="1627">হিসাবরক্ষণ কর্মকর্তা</text><text x="2491" y="1627" class="m">১</text>
<text x="2237" y="1651">লাইব্রেরিয়ান</text><text x="2491" y="1651" class="m">১</text>
<text x="2237" y="1675">সহকারী প্রোগ্রামার</text><text x="2491" y="1675" class="m">১</text>
<text x="2237" y="1699">সহকারী মেইনটেন্যান্স ইঞ্জিনিয়ার</text><text x="2491" y="1699" class="m">১</text>
</g>
<g id="table-class3" class="tb">
<rect x="2547" y="1230" width="335" height="500"/>
<line x1="2547" y1="1254" x2="2882" y2="1254"/><line x1="2815" y1="1254" x2="2815" y2="1609"/><line x1="2815" y1="1633" x2="2815" y2="1730"/>
<line x1="2547" y1="1277" x2="2882" y2="1277"/><line x1="2547" y1="1301" x2="2882" y2="1301"/><line x1="2547" y1="1325" x2="2882" y2="1325"/><line x1="2547" y1="1349" x2="2882" y2="1349"/><line x1="2547" y1="1373" x2="2882" y2="1373"/><line x1="2547" y1="1397" x2="2882" y2="1397"/><line x1="2547" y1="1421" x2="2882" y2="1421"/><line x1="2547" y1="1445" x2="2882" y2="1445"/><line x1="2547" y1="1468" x2="2882" y2="1468"/><line x1="2547" y1="1538" x2="2882" y2="1538"/><line x1="2547" y1="1562" x2="2882" y2="1562"/><line x1="2547" y1="1585" x2="2882" y2="1585"/><line x1="2547" y1="1609" x2="2882" y2="1609"/><line x1="2547" y1="1633" x2="2882" y2="1633"/><line x1="2547" y1="1657" x2="2882" y2="1657"/><line x1="2547" y1="1680" x2="2882" y2="1680"/>
<text x="2714" y="1248" class="m b">তৃতীয় শ্রেণি</text>
<text x="2681" y="1271" class="m">পদের নাম</text><text x="2848" y="1271" class="m">সংখ্যা</text>
<text x="2559" y="1295">প্রদর্শক প্রভাষক</text><text x="2848" y="1295" class="m">১</text>
<text x="2559" y="1319">হিসাবরক্ষক</text><text x="2848" y="1319" class="m">১</text>
<text x="2559" y="1343">সাঁট মুদ্রাক্ষরিক-কাম-কম্পিউটার অপাঃ</text><text x="2848" y="1343" class="m">১৯</text>
<text x="2559" y="1367">কম্পিউটার অপারেটর</text><text x="2848" y="1367" class="m">৪</text>
<text x="2559" y="1391">অভ্যর্থনাকারী-কাম-উচ্চমান সহকারী</text><text x="2848" y="1391" class="m">১</text>
<text x="2559" y="1415">ক্যাশিয়ার</text><text x="2848" y="1415" class="m">১</text>
<text x="2559" y="1439">স্টোর কিপার</text><text x="2848" y="1439" class="m">১</text>
<text x="2559" y="1462">লাইব্রেরি সহকারী</text><text x="2848" y="1462" class="m">১</text>
<text x="2559" y="1486">অফিস সহকারী-কাম-কম্পিটার মুদ্রাঃ</text><text x="2848" y="1486" class="m">২০</text>
<text x="2559" y="1509" textLength="236" lengthAdjust="spacing">(১টি পদ হিসাবকোষের ও ১টি পদ</text>
<text x="2559" y="1531">প্রতিরক্ষা জাদুঘরের জন্য)</text>
<text x="2559" y="1556">টেলিফোন অপারেটর</text><text x="2848" y="1556" class="m">২</text>
<text x="2559" y="1579">কেয়ারটেকার-কাম-অফিস সহকারী</text><text x="2848" y="1579" class="m">১</text>
<text x="2800" y="1603" class="e">মোট =</text><text x="2848" y="1603" class="m">৫২</text>
<text x="2714" y="1627" class="m b">চতুর্থ শ্রেণি</text>
<text x="2559" y="1651">ক্যাশ সরকার</text><text x="2848" y="1651" class="m">১</text>
<text x="2559" y="1674">ফটোকপি অপারেটর</text><text x="2848" y="1674" class="m">১</text>
<text x="2559" y="1698">অফিস সহায়ক</text><text x="2848" y="1698" class="m">৬০</text>
</g>

<path d="M1160,1708 C1158,1660 1175,1620 1198,1624 C1222,1630 1232,1680 1236,1708 M1182,1705 C1186,1655 1212,1618 1238,1624 C1262,1632 1268,1680 1266,1708 M1205,1695 C1222,1645 1252,1612 1280,1624 C1304,1640 1300,1690 1303,1708 M1298,1706 L1316,1698" fill="none" stroke="#111" stroke-width="2.2"/>
</svg>
